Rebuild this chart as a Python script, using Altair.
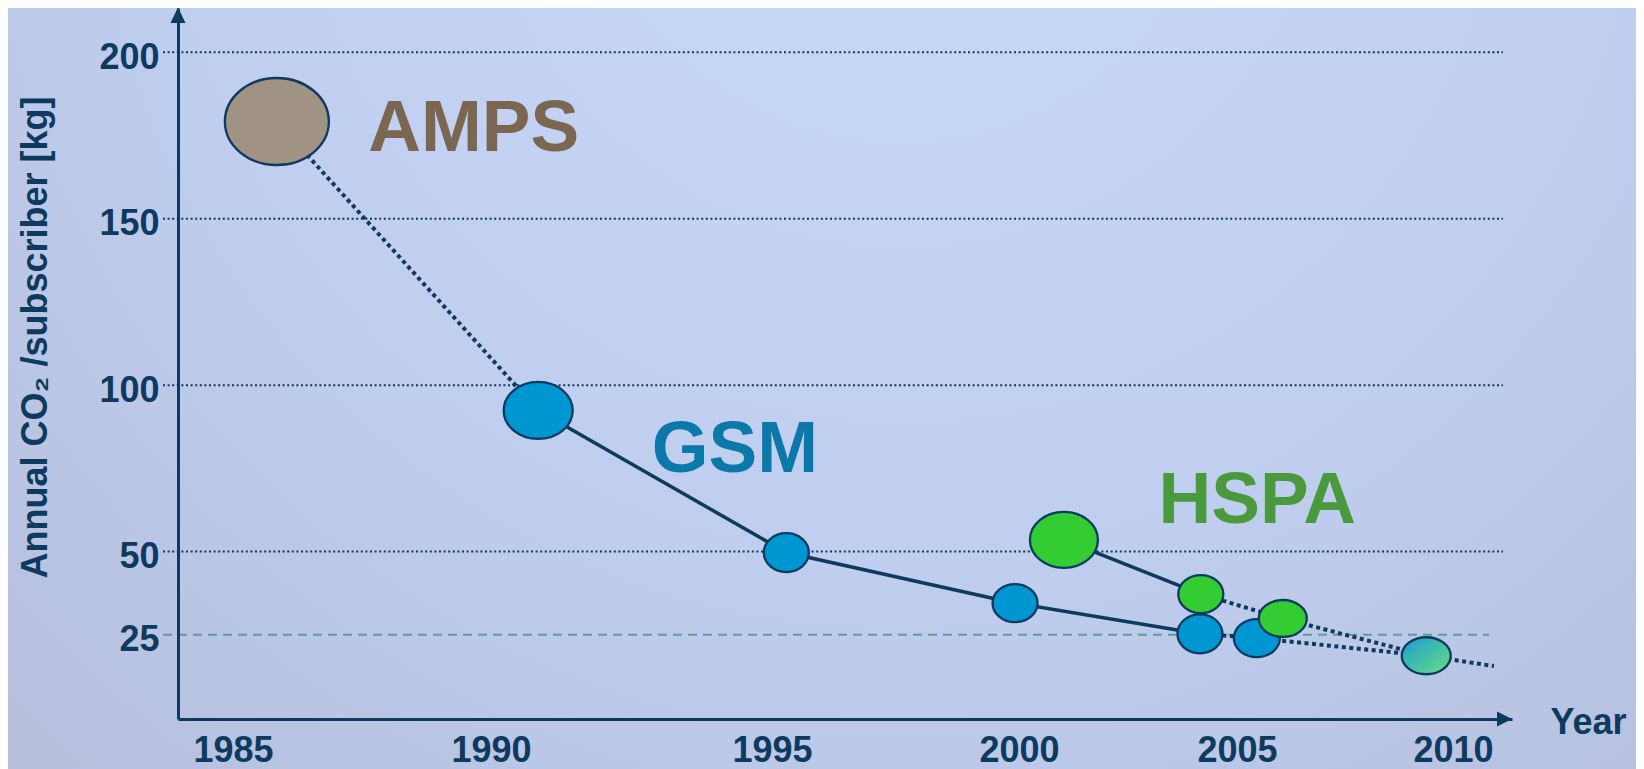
import altair as alt
import pandas as pd

# ---------------- data ----------------
tick_years = [1985, 1990, 1995, 2000, 2005, 2010]
tick_values = [25, 50, 100, 150, 200]
grid_values = [200, 150, 100, 50]
target_values = [25]

amps_years = [1985.85]
amps_vals = [179.2]
gsm_years = [1990.84, 1995.29, 1999.92, 2004.15, 2005.46]
gsm_vals = [92.4, 49.7, 34.5, 25.3, 24.0]
hspa_years = [2001.03, 2004.17, 2006.06]
hspa_vals = [53.5, 37.2, 29.9]
next_years = [2009.38]
next_vals = [18.7]
trend_end_years = [2010.95]
trend_end_vals = [15.6]

series_labels = ["AMPS", "GSM", "HSPA"]
label_years = [1987.62, 1992.86, 2003.2]
label_vals = [170.3, 73.9, 58.6]

# ---------------- styles ----------------
NAVY = "#0d3a5e"
FONT = "Liberation Sans"
W, H = 1334, 711
PAD_L, PAD_T, PAD_R, PAD_B = 170, 0, 124, 50
TOTAL_W, TOTAL_H = PAD_L + W + PAD_R, PAD_T + H + PAD_B
x_domain = [1983.93, 1985, 1990, 1995, 2000, 2005, 2010, 2011.37]
x_range = [0, 55, 313, 594, 841, 1059, 1275, 1334]
y_domain = [-0.3, 213.3]

amps_w, amps_h = [104], [87]
gsm_w, gsm_h = [69, 45, 45, 45, 46], [57, 39, 38, 39, 38]
hspa_w, hspa_h = [68, 45, 48], [56, 38, 37]
next_w, next_h = [49], [37]

fill_amps = "#a09383"
fill_gsm = "#0096d2"
fill_hspa = "#33cc33"
label_colors = ["#7a6651", "#0a78a8", "#4a9a3d"]


def ellipse_path(r):
    k = 0.5523
    return (f"M 1 0 C 1 {k*r:.4f} {k:.4f} {r:.4f} 0 {r:.4f} "
            f"C {-k:.4f} {r:.4f} -1 {k*r:.4f} -1 0 "
            f"C -1 {-k*r:.4f} {-k:.4f} {-r:.4f} 0 {-r:.4f} "
            f"C {k:.4f} {-r:.4f} 1 {-k*r:.4f} 1 0 Z")


def make_points(years, vals, ws, hs, fill):
    return [dict(year=y, val=v, shape=ellipse_path(h / w), size=w * w, fill=fill)
            for y, v, w, h in zip(years, vals, ws, hs)]


pts = (make_points(amps_years, amps_vals, amps_w, amps_h, fill_amps)
       + make_points(gsm_years, gsm_vals, gsm_w, gsm_h, fill_gsm)
       + make_points(hspa_years, hspa_vals, hspa_w, hspa_h, fill_hspa))
df_pts = pd.DataFrame(pts)
df_pts["order"] = range(len(df_pts))
df_next = pd.DataFrame(make_points(next_years, next_vals, next_w, next_h, "x"))


def seg(name, ys, vs):
    return [dict(seg=name, i=i, year=y, val=v) for i, (y, v) in enumerate(zip(ys, vs))]


solid = (seg("gsm", gsm_years[:4], gsm_vals[:4])
         + seg("hspa", hspa_years[:2], hspa_vals[:2]))
dotted = (seg("amps", amps_years + gsm_years[:1], amps_vals + gsm_vals[:1])
          + seg("gsm_f", gsm_years[3:] + next_years, gsm_vals[3:] + next_vals)
          + seg("hspa_f", hspa_years[1:] + next_years + trend_end_years,
                hspa_vals[1:] + next_vals + trend_end_vals))
df_solid = pd.DataFrame(solid)
df_dotted = pd.DataFrame(dotted)

df_grid = pd.DataFrame({"val": grid_values})
df_target = pd.DataFrame({"val": target_values})
df_labels = pd.DataFrame({"label": series_labels, "year": label_years,
                          "val": label_vals, "color": label_colors})

# ---------------- scales / axes ----------------
xscale = alt.Scale(type="linear", domain=x_domain, range=x_range, nice=False, zero=False)
yscale = alt.Scale(type="linear", domain=y_domain, nice=False, zero=False)

xaxis = alt.Axis(values=tick_years, format="d", ticks=False, tickSize=0, grid=False,
                 domain=True, domainColor=NAVY, domainWidth=3, zindex=1,
                 labelFont=FONT, labelFontSize=36, labelFontWeight="bold", labelColor=NAVY,
                 labelPadding=42, labelBaseline="alphabetic", labelAlign="center",
                 labelFlush=False, labelOverlap=False, labelBound=False,
                 title="Year", titleFont=FONT, titleFontSize=36, titleFontWeight="bold",
                 titleColor=NAVY, titleAngle=0, titleX=1372, titleY=14,
                 titleAlign="left", titleBaseline="alphabetic")
yaxis = alt.Axis(values=tick_values, ticks=False, tickSize=0, grid=False,
                 domain=True, domainColor=NAVY, domainWidth=3, zindex=1,
                 labelFont=FONT, labelFontSize=36, labelFontWeight="bold", labelColor=NAVY,
                 labelPadding=19, labelBaseline="alphabetic", labelOffset=16,
                 labelFlush=False, labelOverlap=False, labelBound=False,
                 title="Annual CO₂ /subscriber [kg]", titleFont=FONT, titleFontSize=36,
                 titleFontWeight="bold", titleColor=NAVY, titleAngle=270,
                 titleX=-132, titleY=329, titleAlign="center", titleBaseline="alphabetic")

X = alt.X("year:Q", scale=xscale, axis=xaxis)
Y = alt.Y("val:Q", scale=yscale, axis=yaxis)

# ---------------- layers ----------------
bg_grad = alt.RadialGradient(
    gradient="radial", x1=0.55, y1=0.15, r1=0, x2=0.55, y2=0.15, r2=0.95,
    stops=[alt.GradientStop(color="#c9daf8", offset=0),
           alt.GradientStop(color="#bfcdee", offset=0.5),
           alt.GradientStop(color="#b1b8d3", offset=1)])
bg = alt.Chart(pd.DataFrame({"a": [0]})).mark_rect(fill=bg_grad).encode(
    x=alt.value(-PAD_L), x2=alt.value(TOTAL_W - PAD_L),
    y=alt.value(-PAD_T), y2=alt.value(TOTAL_H - PAD_T))

grid = alt.Chart(df_grid).mark_rule(color=NAVY, strokeWidth=2, strokeDash=[2, 2.6]).encode(
    y=Y, x=alt.value(-15), x2=alt.value(1325))
target = alt.Chart(df_target).mark_rule(color="#5a9f98", strokeWidth=2, strokeDash=[9, 6]).encode(
    y=Y, x=alt.value(-15), x2=alt.value(1311))

lines_solid = alt.Chart(df_solid).mark_line(color=NAVY, strokeWidth=3.5).encode(
    x=X, y=Y, detail="seg:N", order="i:Q")
lines_dotted = alt.Chart(df_dotted).mark_line(color=NAVY, strokeWidth=4, strokeDash=[4, 3.5]).encode(
    x=X, y=Y, detail="seg:N", order="i:Q")

points = alt.Chart(df_pts).mark_point(filled=True, opacity=1, stroke=NAVY, strokeWidth=2.3).encode(
    x=X, y=Y,
    shape=alt.Shape("shape:N", scale=None),
    size=alt.Size("size:Q", scale=None),
    fill=alt.Fill("fill:N", scale=None),
    order="order:Q")

next_grad = alt.LinearGradient(
    gradient="linear", x1=0, y1=0, x2=1, y2=1,
    stops=[alt.GradientStop(color="#1f97d3", offset=0),
           alt.GradientStop(color="#42bea8", offset=0.5),
           alt.GradientStop(color="#66e081", offset=1)])
next_pt = alt.Chart(df_next).mark_point(filled=True, opacity=1, fill=next_grad,
                                        stroke=NAVY, strokeWidth=2.3).encode(
    x=X, y=Y,
    shape=alt.Shape("shape:N", scale=None),
    size=alt.Size("size:Q", scale=None))

labels = alt.Chart(df_labels).mark_text(font=FONT, fontSize=73, fontWeight="bold",
                                         align="left", baseline="alphabetic").encode(
    x=X, y=Y, text="label:N", color=alt.Color("color:N", scale=None))

# axis arrowheads
df_arrow_y = pd.DataFrame({"year": [x_domain[0]], "val": [y_domain[1]]})
df_arrow_x = pd.DataFrame({"year": [x_domain[-1]], "val": [y_domain[0]]})
arrow_y = alt.Chart(df_arrow_y).mark_point(shape="M 0 -0.1 L 1 2 L -1 2 Z", size=225, filled=True,
                                           fill=NAVY, opacity=1).encode(x=X, y=Y)
arrow_x = alt.Chart(df_arrow_x).mark_point(shape="M 0 0 L -2 -1 L -2 1 Z", size=225, filled=True,
                                           fill=NAVY, opacity=1).encode(x=X, y=Y)

chart = alt.layer(bg, grid, target, lines_dotted, lines_solid, points, next_pt, labels,
                  arrow_y, arrow_x).properties(
    width=W, height=H,
    autosize=alt.AutoSizeParams(type="none"),
    padding={"left": PAD_L, "top": PAD_T, "right": PAD_R, "bottom": PAD_B},
    background="#bccaea",
).configure_view(stroke=None)

chart.save("out.html", embed_options={"renderer": "svg", "actions": False})
